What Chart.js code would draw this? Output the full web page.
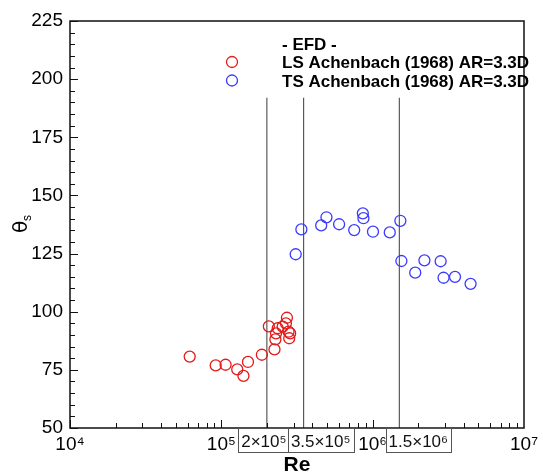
<!DOCTYPE html>
<html><head><meta charset="utf-8">
<script src="https://cdn.jsdelivr.net/npm/chart.js@4/dist/chart.umd.min.js"></script>
<style>html,body{margin:0;padding:0;background:#fff}#wrap{width:543px;height:474px;position:relative}</style>
</head><body><div id="wrap"><canvas id="c" width="543" height="474"></canvas></div>
<script>
// ---- data ----
const lsRe    = [61800, 91800, 106700, 127400, 140000, 150000, 185300, 206000, 224500, 227700, 229800, 235800, 254300, 271300, 267200, 278000, 285000, 281000];
const lsTheta = [80.7, 76.9, 77.2, 75.2, 72.4, 78.4, 81.5, 93.7, 83.8, 88.1, 90.7, 92.9, 93.6, 97.4, 95.0, 91.4, 90.7, 88.6];
const tsRe    = [310000, 338000, 457000, 495000, 600000, 755000, 861000, 869000, 1005000, 1297000, 1524000, 1548000, 1911000, 2198000, 2813000, 2941000, 3500000, 4436000];
const tsTheta = [124.7, 135.4, 137.1, 140.6, 137.6, 135.1, 142.3, 140.2, 134.4, 134.1, 139.1, 121.8, 116.8, 122.1, 121.7, 114.6, 115.0, 112.0];
const markerRe = [2e5, 3.5e5, 1.5e6];
const markerLabels = ['2×10⁵', '3.5×10⁵', '1.5×10⁶'];
const markerTop = 192;
const yTickValues = [50, 75, 100, 125, 150, 175, 200, 225];
const legendTitle = '- EFD -';
const seriesNames = ['LS Achenbach (1968) AR=3.3D', 'TS Achenbach (1968) AR=3.3D'];
const xTitle = 'Re';

// ---- styles ----
const RED = '#e31a1a', BLUE = '#3b3bff';
const boxShift = [-3, 17, 19];
const sup = {4:'⁴',5:'⁵',6:'⁶',7:'⁷'};

const pts = (xs, ys) => xs.map((x, i) => ({x, y: ys[i]}));
const vlines = markerRe.map(r => ({
  type: 'line', data: [{x: r, y: 50}, {x: r, y: markerTop}],
  borderColor: '#3a3a3a', borderWidth: 1, pointRadius: 0, showLine: true, order: 5
}));

const deco = {
  id: 'deco',
  afterDraw(chart) {
    const ctx = chart.ctx, a = chart.chartArea;
    const xs = chart.scales.x, ys = chart.scales.y;
    ctx.save();
    // frame
    ctx.strokeStyle = '#111'; ctx.lineWidth = 1.5;
    ctx.strokeRect(a.left, a.top, a.right - a.left, a.bottom - a.top);
    // inward ticks
    ctx.lineWidth = 1; ctx.strokeStyle = '#111';
    ctx.beginPath();
    for (let d = 4; d <= 6; d++) {
      for (let k = 1; k <= 9; k++) {
        const px = Math.round(xs.getPixelForValue(k * Math.pow(10, d))) + 0.5;
        const len = k === 1 ? 8 : 5;
        ctx.moveTo(px, a.bottom); ctx.lineTo(px, a.bottom - len);
      }
    }
    for (let v = 50; v <= 225; v += 5) {
      const py = Math.round(ys.getPixelForValue(v)) + 0.5;
      const len = v % 25 === 0 ? 8 : 5;
      ctx.moveTo(a.left, py); ctx.lineTo(a.left + len, py);
    }
    ctx.stroke();
    // boxed marker labels
    ctx.font = '17px "Liberation Sans", Arial, sans-serif';
    ctx.textAlign = 'center'; ctx.textBaseline = 'alphabetic';
    markerRe.forEach((r, i) => {
      const cx = xs.getPixelForValue(r) + boxShift[i];
      const w = ctx.measureText(markerLabels[i]).width + 6;
      ctx.fillStyle = '#fff';
      ctx.fillRect(cx - w / 2, a.bottom + 1, w, 23);
      ctx.strokeStyle = '#555'; ctx.lineWidth = 1;
      ctx.strokeRect(Math.round(cx - w / 2) + 0.5, a.bottom + 0.5, Math.round(w), 24);
      ctx.fillStyle = '#111';
      ctx.fillText(markerLabels[i], cx, a.bottom + 19);
    });
    // legend
    ctx.textAlign = 'left';
    ctx.font = 'bold 17px "Liberation Sans", Arial, sans-serif';
    ctx.fillStyle = '#000';
    ctx.fillText(legendTitle, 282, 50);
    [RED, BLUE].forEach((c, i) => {
      const y = 62 + i * 18.5;
      ctx.beginPath(); ctx.strokeStyle = c; ctx.lineWidth = 1.3;
      ctx.arc(232, y, 5.5, 0, Math.PI * 2); ctx.stroke();
      ctx.fillStyle = '#000';
      ctx.fillText(seriesNames[i], 282, y + 6);
    });
    // axis titles
    ctx.font = 'bold 21px "Liberation Sans", Arial, sans-serif';
    ctx.textAlign = 'center';
    ctx.fillText(xTitle, (a.left + a.right) / 2, 471);
    ctx.translate(27, 226);
    ctx.rotate(-Math.PI / 2);
    ctx.font = '20px "DejaVu Sans", sans-serif';
    ctx.textAlign = 'left';
    ctx.fillText('θ', -7, 0);
    ctx.font = '12px "Liberation Sans", Arial, sans-serif';
    ctx.fillText('s', 5, 4);
    ctx.restore();
  }
};

new Chart(document.getElementById('c'), {
  type: 'scatter',
  data: {
    datasets: [
      {label: seriesNames[0], data: pts(lsRe, lsTheta), borderColor: RED, backgroundColor: 'rgba(0,0,0,0)', pointRadius: 5.5, borderWidth: 1.3, pointStyle: 'circle'},
      {label: seriesNames[1], data: pts(tsRe, tsTheta), borderColor: BLUE, backgroundColor: 'rgba(0,0,0,0)', pointRadius: 5.5, borderWidth: 1.3, pointStyle: 'circle'},
      ...vlines
    ]
  },
  options: {
    responsive: false, animation: false, devicePixelRatio: 1,
    layout: {padding: {left: 0, top: 21, right: 14, bottom: 0}},
    plugins: {legend: {display: false}, tooltip: {enabled: false}},
    scales: {
      x: {
        type: 'logarithmic', min: 1e4, max: 1e7,
        grid: {display: false, drawTicks: false}, border: {display: false},
        afterFit: s => { s.height = 46; },
        ticks: {
          autoSkip: false, maxRotation: 0, padding: 5, color: '#000',
          font: {family: '"Liberation Sans", Arial, sans-serif', size: 19},
          callback: v => { const e = Math.log10(v); const r = Math.round(e); return Math.abs(e - r) < 1e-9 ? '10' + sup[r] : ''; }
        }
      },
      y: {
        min: 50, max: 225,
        grid: {display: false, drawTicks: false}, border: {display: false},
        afterFit: s => { s.width = 70; },
        afterBuildTicks: s => { s.ticks = yTickValues.map(v => ({value: v})); },
        ticks: {padding: 7, color: '#000', font: {family: '"Liberation Sans", Arial, sans-serif', size: 19}}
      }
    }
  },
  plugins: [deco]
});
</script></body></html>
